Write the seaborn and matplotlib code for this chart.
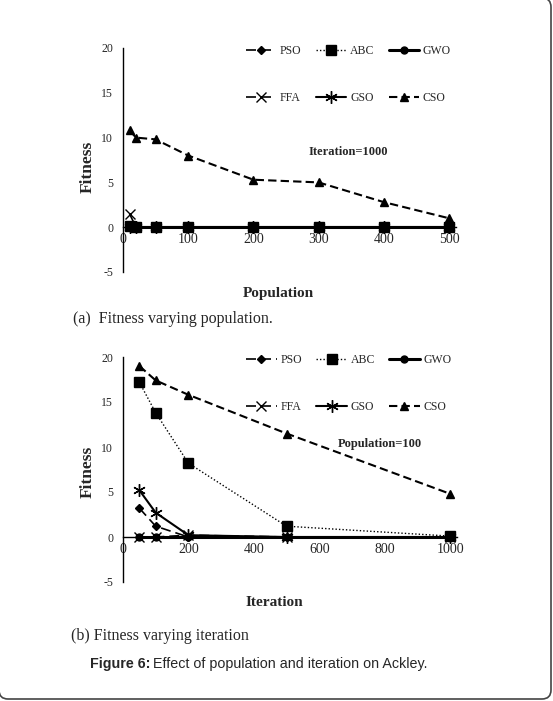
import numpy as np
import pandas as pd
import matplotlib
matplotlib.use("Agg")
import matplotlib.pyplot as plt
import seaborn as sns
from matplotlib.lines import Line2D
from matplotlib.patches import PathPatch
from matplotlib.path import Path
from matplotlib.transforms import IdentityTransform

# ---------------- data ----------------
algorithms = ["PSO", "ABC", "GWO", "FFA", "GSO", "CSO"]

population = [10, 20, 50, 100, 200, 300, 400, 500]
pop_pso = [0.0, 0.0, 0.0, 0.0, 0.0, 0.0, 0.0, 0.0]
pop_abc = [0.1, 0.0, 0.0, 0.0, 0.0, 0.0, 0.0, 0.0]
pop_gwo = [0.0, 0.0, 0.0, 0.0, 0.0, 0.0, 0.0, 0.0]
pop_ffa = [1.5, 0.0, 0.0, 0.0, 0.0, 0.0, 0.0, 0.0]
pop_gso = [0.0, 0.0, 0.0, 0.0, 0.0, 0.0, 0.0, 0.0]
pop_cso = [10.8, 10.0, 9.8, 8.0, 5.3, 5.0, 2.8, 1.0]

iteration = [50, 100, 200, 500, 1000]
it_pso = [3.2, 1.2, 0.0, 0.0, 0.0]
it_abc = [17.2, 13.8, 8.2, 1.2, 0.1]
it_gwo = [0.0, 0.0, 0.0, 0.0, 0.0]
it_ffa = [0.0, 0.0, 0.2, 0.0, 0.0]
it_gso = [5.2, 2.7, 0.2, 0.0, 0.0]
it_cso = [19.0, 17.4, 15.8, 11.5, 4.8]

pop_ticks = [0, 100, 200, 300, 400, 500]
it_ticks = [0, 200, 400, 600, 800, 1000]
y_ticks = [-5, 0, 5, 10, 15, 20]

# ---------------- style ----------------
sns.set_style("white")
plt.rcParams["font.family"] = ["Liberation Serif", "DejaVu Serif"]

styles = {
    "PSO": dict(marker="D", linestyle=(0, (6, 3)), linewidth=1.2, markersize=4.5),
    "ABC": dict(marker="s", linestyle=(0, (1, 1.5)), linewidth=1.0, markersize=7),
    "GWO": dict(marker="o", linestyle="-", linewidth=2.2, markersize=5),
    "FFA": dict(marker="x", linestyle=(0, (6, 3)), linewidth=1.2, markersize=7),
    "GSO": dict(marker=(6, 2, 0), linestyle="-", linewidth=1.5, markersize=9),
    "CSO": dict(marker="^", linestyle=(0, (4, 2)), linewidth=1.5, markersize=5.5),
}

W, H = 553, 701
fig = plt.figure(figsize=(W / 100, H / 100), dpi=100)


def px_axes(left, right, top, bottom):
    return fig.add_axes([left / W, 1 - bottom / H, (right - left) / W, (bottom - top) / H])


def draw_panel(ax, xs, series, xlim, xticks):
    for name in algorithms:
        df = pd.DataFrame({"x": xs, "y": series[name]})
        st = styles[name]
        sns.lineplot(data=df, x="x", y="y", ax=ax, color="black",
                     marker=st["marker"], linestyle=st["linestyle"],
                     linewidth=st["linewidth"], markersize=st["markersize"],
                     markeredgecolor="black", markerfacecolor="black",
                     markeredgewidth=1.0, errorbar=None, sort=False)
    ax.set_xlim(*xlim)
    ax.set_ylim(-5, 20)
    ax.set_xticks(xticks)
    ax.set_yticks(y_ticks)
    ax.set_xticklabels([str(t) for t in xticks], fontsize=8.5)
    ax.set_yticklabels([str(t) for t in y_ticks], fontsize=8.5)
    ax.spines["top"].set_visible(False)
    ax.spines["right"].set_visible(False)
    ax.spines["bottom"].set_position(("data", 0))
    for s in ("left", "bottom"):
        ax.spines[s].set_color("black")
        ax.spines[s].set_linewidth(1.0)
    ax.tick_params(axis="y", length=0, pad=7)
    ax.tick_params(axis="x", length=0, pad=4)
    ax.set_xlabel("")
    ax.set_ylabel("")
    ax.grid(False)
    ax.patch.set_alpha(0)

    handles = []
    for name in ["PSO", "FFA", "ABC", "GSO", "GWO", "CSO"]:
        st = styles[name]
        handles.append(Line2D([], [], color="black", marker=st["marker"],
                              linestyle=st["linestyle"], linewidth=st["linewidth"],
                              markersize=st["markersize"], markerfacecolor="black",
                              label=name))
    ax.legend(handles=handles, ncol=3, loc="upper left",
              bbox_to_anchor=(0.355, 1.035), frameon=False, fontsize=8.5,
              handlelength=2.6, labelspacing=3.0, columnspacing=1.2,
              handletextpad=0.3, borderaxespad=0)


ax1 = px_axes(123, 455.5, 48, 272)
draw_panel(ax1, population,
           {"PSO": pop_pso, "ABC": pop_abc, "GWO": pop_gwo,
            "FFA": pop_ffa, "GSO": pop_gso, "CSO": pop_cso},
           (0, 510), pop_ticks)
ax1.text(345, 8.4, "Iteration=1000", fontsize=9, fontweight="bold", ha="center", va="center")

ax2 = px_axes(123, 456.6, 357, 582)
draw_panel(ax2, iteration,
           {"PSO": it_pso, "ABC": it_abc, "GWO": it_gwo,
            "FFA": it_ffa, "GSO": it_gso, "CSO": it_cso},
           (0, 1020), it_ticks)
ax2.text(785, 10.3, "Population=100", fontsize=9, fontweight="bold", ha="center", va="center")

# axis labels
fig.text(88 / W, 1 - 167 / H, "Fitness", rotation=90, fontsize=12.5, fontweight="bold",
         ha="center", va="center")
fig.text(278 / W, 1 - 293 / H, "Population", fontsize=11, fontweight="bold",
         ha="center", va="center")
fig.text(88 / W, 1 - 472 / H, "Fitness", rotation=90, fontsize=12.5, fontweight="bold",
         ha="center", va="center")
fig.text(274 / W, 1 - 603 / H, "Iteration", fontsize=11, fontweight="bold",
         ha="center", va="center")

# captions
fig.text(73 / W, 1 - 319 / H, "(a)  Fitness varying population.", fontsize=11.5,
         ha="left", va="center")
fig.text(71 / W, 1 - 636 / H, "(b) Fitness varying iteration", fontsize=11.5,
         ha="left", va="center")
t_bold = fig.text(90 / W, 1 - 664 / H, "Figure 6:", fontsize=10.3, fontweight="bold",
                  family="Liberation Sans", ha="left", va="center")
renderer = fig.canvas.get_renderer()
bb = t_bold.get_window_extent(renderer=renderer)
fig.text((bb.x1 + 3) / W, 1 - 664 / H, "Effect of population and iteration on Ackley.",
         fontsize=10.3, family="Liberation Sans", ha="left", va="center")

# rounded frame: right and bottom edges visible, top/left just off-canvas
r = 9
xl, xr, yb, yt = -1.0, 551.0, 2.0, 703.0
verts = [(xr - r, yt), (xr, yt), (xr, yt - r),
         (xr, yb + r), (xr, yb), (xr - r, yb),
         (xl + r, yb), (xl, yb), (xl, yb + r),
         (xl, yt + 20)]
codes = [Path.MOVETO, Path.CURVE3, Path.CURVE3,
         Path.LINETO, Path.CURVE3, Path.CURVE3,
         Path.LINETO, Path.CURVE3, Path.CURVE3,
         Path.LINETO]
frame = PathPatch(Path(verts, codes), transform=IdentityTransform(),
                  facecolor="none", edgecolor="#444444", linewidth=1.2)
fig.add_artist(frame)

fig.savefig("out.png", dpi=100)
